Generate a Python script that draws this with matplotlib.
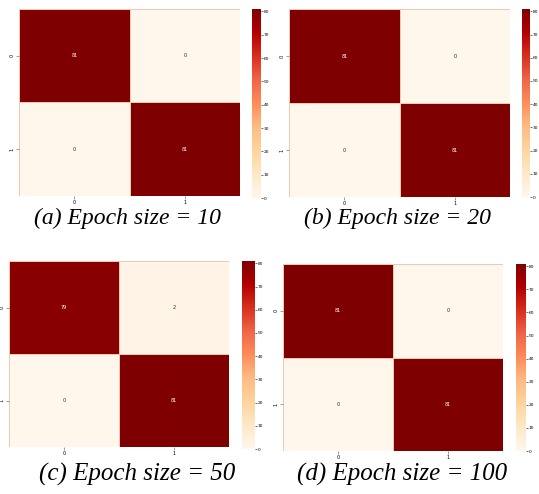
import numpy as np
import matplotlib
matplotlib.use('Agg')
import matplotlib.pyplot as plt
import seaborn as sns

W, H = 539, 494

labels = ['0', '1']
cm_10 = [[81, 0], [0, 81]]
cm_20 = [[81, 0], [0, 81]]
cm_50 = [[79, 2], [0, 81]]
cm_100 = [[81, 0], [0, 81]]
captions = ['(a) Epoch size = 10', '(b) Epoch size = 20',
            '(c) Epoch size = 50', '(d) Epoch size = 100']


def px(x0, y0, x1, y1):
    # pixel box -> figure fraction rect
    return [x0 / W, 1 - y1 / H, (x1 - x0) / W, (y1 - y0) / H]


def panel(fig, cm, hm_box, cb_box, cap_xy, cap, cap_size):
    ax = fig.add_axes(px(*hm_box))
    cax = fig.add_axes(px(*cb_box))
    sns.heatmap(np.array(cm), ax=ax, cbar_ax=cax, cmap='OrRd', vmin=0, vmax=81,
                annot=True, fmt='d', annot_kws={'size': 3.5},
                linewidths=0.6, linecolor='#f4c7b0',
                xticklabels=labels, yticklabels=labels)
    ax.tick_params(labelsize=3.5, length=2, width=0.4, color='#555555', pad=1)
    ax.set_yticklabels(labels, rotation=90, va='center')
    cax.tick_params(labelsize=3.2, length=1.5, width=0.4, pad=0.6)
    cax.set_yticks(range(0, 81, 10))
    for s in cax.spines.values():
        s.set_visible(False)
    fig.text(cap_xy[0] / W, 1 - cap_xy[1] / H, cap, ha='center', va='center',
             family='Liberation Serif', style='italic', fontsize=cap_size)


fig = plt.figure(figsize=(W / 100, H / 100), dpi=100)

panel(fig, cm_10, (19, 9, 240, 196), (252, 9, 261, 198), (128, 218), captions[0], 17)
panel(fig, cm_20, (289, 9, 510, 197), (522, 9, 530, 197), (398, 218), captions[1], 17)
panel(fig, cm_50, (9, 261, 229, 447), (242, 261, 255, 449), (137, 474), captions[2], 18)
panel(fig, cm_100, (283, 264, 503, 451), (516, 264, 526, 451), (402, 474), captions[3], 18)

fig.savefig('out.png', dpi=100)
